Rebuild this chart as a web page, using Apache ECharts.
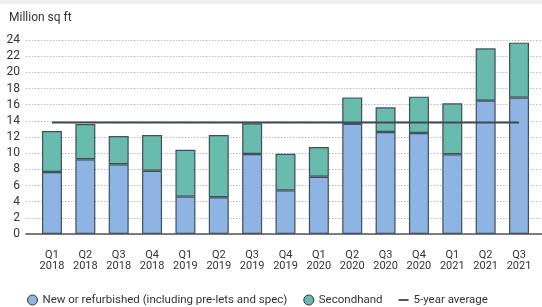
<!DOCTYPE html>
<html>
<head>
<meta charset="utf-8">
<script src="https://cdn.jsdelivr.net/npm/echarts@6/dist/echarts.min.js"></script>
<style>
html,body{margin:0;padding:0;background:#fff;}
#c{width:542px;height:307px;}
</style>
</head>
<body>
<div id="c"></div>
<script>
var categories = ['Q1\n2018','Q2\n2018','Q3\n2018','Q4\n2018','Q1\n2019','Q2\n2019','Q3\n2019','Q4\n2019','Q1\n2020','Q2\n2020','Q3\n2020','Q4\n2020','Q1\n2021','Q2\n2021','Q3\n2021'];
var totals = [12.74, 13.6, 12.12, 12.25, 10.43, 12.25, 13.69, 9.93, 10.76, 16.9, 15.67, 16.99, 16.17, 22.97, 23.67];
var newRefurb = [7.67, 9.24, 8.62, 7.83, 4.62, 4.54, 9.9, 5.4, 7.09, 13.63, 12.62, 12.5, 9.86, 16.5, 16.87];
var secondhand = totals.map(function(t, i){ return +(t - newRefurb[i]).toFixed(2); });
var fiveYearAvg = categories.map(function(){ return 13.8; });
var yTicks = {min: 0, max: 24, interval: 2};

var FONT = 'Roboto';
var chart = echarts.init(document.getElementById('c'), null, {renderer: 'canvas'});
var border = 'rgba(45,55,65,0.85)';
chart.setOption({
  animation: false,
  textStyle: {fontFamily: FONT},
  graphic: [
    {type: 'rect', shape: {x: 0, y: 0, width: 542, height: 4}, style: {fill: '#efefef'}, silent: true},
    {type: 'text', left: 9, top: 12, style: {text: 'Million sq ft', font: '12px ' + FONT, fill: '#333'}}
  ],
  grid: [
    {left: 26, right: 0, top: 40, bottom: 73},
    {left: 35.3, right: 6.3, top: 40, bottom: 73}
  ],
  xAxis: [
    {gridIndex: 0, type: 'category', data: categories, axisLabel: {show: false}, axisTick: {show: false},
     axisLine: {lineStyle: {color: '#555', width: 1.5}}, z: 5},
    {gridIndex: 1, type: 'category', data: categories, axisTick: {show: false}, axisLine: {show: false},
     axisLabel: {color: '#333', fontSize: 11, lineHeight: 11, margin: 16, interval: 0}}
  ],
  yAxis: [
    {gridIndex: 0, type: 'value', min: yTicks.min, max: yTicks.max, interval: yTicks.interval,
     axisLabel: {color: '#333', fontSize: 12, margin: 6},
     axisLine: {show: false}, axisTick: {show: false},
     splitLine: {lineStyle: {color: '#bdbdbd', type: [1.5, 1.5], width: 1}}},
    {gridIndex: 1, type: 'value', min: yTicks.min, max: yTicks.max, interval: yTicks.interval, show: false,
     splitLine: {show: false}}
  ],
  legend: {
    bottom: -4, left: 22, itemWidth: 10, itemHeight: 10, itemGap: 16,
    textStyle: {fontSize: 11.5, color: '#333', fontFamily: FONT},
    data: [
      {name: 'New or refurbished (including pre-lets and spec)', icon: 'circle',
       itemStyle: {color: '#8db4e2', borderColor: '#333', borderWidth: 1}},
      {name: 'Secondhand', icon: 'circle', itemStyle: {color: '#69bcad', borderColor: '#333', borderWidth: 1}},
      {name: '5-year average', icon: 'path://M0,0 L16,0 L16,3 L0,3 Z', itemStyle: {color: '#3d4a55'}}
    ]
  },
  series: [
    {name: 'New or refurbished (including pre-lets and spec)', type: 'bar', stack: 's', xAxisIndex: 1, yAxisIndex: 1,
     barWidth: 20, data: newRefurb,
     itemStyle: {color: '#8db4e2', borderColor: border, borderWidth: 1.2}},
    {name: 'Secondhand', type: 'bar', stack: 's', xAxisIndex: 1, yAxisIndex: 1,
     barWidth: 20, data: secondhand,
     itemStyle: {color: '#69bcad', borderColor: border, borderWidth: 1.2}},
    {name: '5-year average', type: 'line', xAxisIndex: 1, yAxisIndex: 1, data: fiveYearAvg,
     symbol: 'none', lineStyle: {color: '#3d4a55', width: 2}, z: 10}
  ]
});
</script>
</body>
</html>
